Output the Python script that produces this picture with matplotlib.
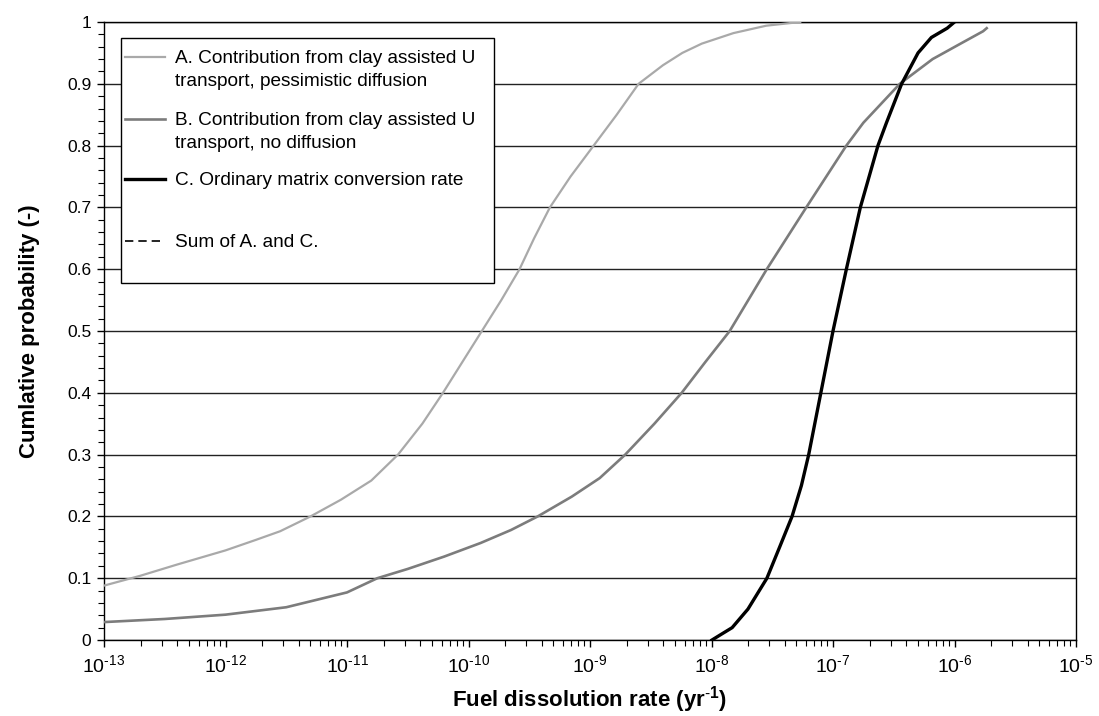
import numpy as np
import matplotlib

matplotlib.use("Agg")
from matplotlib import pyplot as plt
from matplotlib.lines import Line2D
from matplotlib.patches import Rectangle
from matplotlib.ticker import FixedLocator, LogLocator, NullFormatter

plt.rcParams["font.family"] = ["Liberation Sans", "DejaVu Sans"]
plt.rcParams["mathtext.fontset"] = "custom"
plt.rcParams["mathtext.rm"] = "Liberation Sans"
plt.rcParams["mathtext.bf"] = "Liberation Sans:bold"

# values; rates kept as log10(yr-1)
a_log_rate = [-13.0, -12.7, -12.4, -12.0, -11.75, -11.55, -11.3, -11.05, -10.8,
              -10.58, -10.38, -10.21, -10.05, -9.89, -9.73, -9.58, -9.46, -9.33,
              -9.16, -8.97, -8.78, -8.60, -8.40, -8.24, -8.08, -7.82, -7.55, -7.27]
a_prob = [0.088, 0.104, 0.122, 0.145, 0.162, 0.176, 0.200, 0.227, 0.258,
          0.300, 0.350, 0.400, 0.450, 0.500, 0.550, 0.600, 0.650, 0.700,
          0.750, 0.800, 0.850, 0.900, 0.930, 0.950, 0.965, 0.982, 0.994, 1.000]

b_log_rate = [-13.0, -12.5, -12.0, -11.5, -11.0, -10.75, -10.5, -10.2, -9.9,
              -9.65, -9.43, -9.15, -8.92, -8.71, -8.47, -8.245, -8.05, -7.85,
              -7.545, -7.22, -6.89, -6.75, -6.45, -6.18, -5.95, -5.765, -5.735]
b_prob = [0.029, 0.034, 0.041, 0.053, 0.077, 0.100, 0.115, 0.135, 0.157,
          0.178, 0.200, 0.232, 0.262, 0.300, 0.350, 0.400, 0.450, 0.500,
          0.600, 0.700, 0.800, 0.837, 0.900, 0.940, 0.965, 0.985, 0.990]

c_log_rate = [-7.996, -7.93, -7.83, -7.70, -7.544, -7.44, -7.337, -7.26, -7.20,
              -7.10, -7.0, -6.89, -6.775, -6.63, -6.56, -6.435, -6.30, -6.19,
              -6.06, -6.0]
c_prob = [0.0, 0.008, 0.02, 0.05, 0.10, 0.15, 0.20, 0.25, 0.30,
          0.40, 0.50, 0.60, 0.70, 0.80, 0.837, 0.90, 0.95, 0.975,
          0.99, 1.0]

# the sum of A and C lies on top of C everywhere in the picture
sum_log_rate = c_log_rate
sum_prob = c_prob

y_ticks = [0, 0.1, 0.2, 0.3, 0.4, 0.5, 0.6, 0.7, 0.8, 0.9, 1]
y_tick_labels = ["0", "0.1", "0.2", "0.3", "0.4", "0.5", "0.6", "0.7", "0.8", "0.9", "1"]
x_exponents = [-13, -12, -11, -10, -9, -8, -7, -6, -5]

legend_labels = [
    "A. Contribution from clay assisted U\ntransport, pessimistic diffusion",
    "B. Contribution from clay assisted U\ntransport, no diffusion",
    "C. Ordinary matrix conversion rate",
    "Sum of A. and C.",
]

W, H = 1099, 716
AX_L, AX_R, AX_T, AX_B = 104, 1076, 22, 640


def fig_xy(px, py):
    return px / W, 1 - py / H


fig = plt.figure(figsize=(W / 100, H / 100), dpi=100)
ax = fig.add_axes([AX_L / W, 1 - AX_B / H, (AX_R - AX_L) / W, (AX_B - AX_T) / H])

styles = [
    dict(color="#a9a9a9", lw=1.6, ls="-"),
    dict(color="#7c7c7c", lw=1.9, ls="-"),
    dict(color="black", lw=2.4, ls="-"),
    dict(color="black", lw=1.2, ls=(0, (5, 3))),
]
series = [(a_log_rate, a_prob), (b_log_rate, b_prob),
          (c_log_rate, c_prob), (sum_log_rate, sum_prob)]
for (lr, p), st in zip(series, styles):
    ax.plot(10.0 ** np.array(lr), p, zorder=3, **st)

ax.set_xscale("log")
ax.set_xlim(1e-13, 1e-5)
ax.set_ylim(0, 1)

ax.xaxis.set_minor_locator(LogLocator(base=10, subs=np.arange(2, 10), numticks=100))
ax.xaxis.set_minor_formatter(NullFormatter())
ax.set_xticks([10.0 ** e for e in x_exponents])
ax.set_xticklabels([r"$\mathregular{10^{\text{-}%d}}$" % -e for e in x_exponents])

ax.set_yticks(y_ticks)
ax.set_yticklabels(y_tick_labels)
ax.yaxis.set_minor_locator(FixedLocator(np.arange(0, 1.001, 0.02)))

ax.tick_params(axis="both", which="major", direction="out", length=5, width=1,
               color="black")
ax.tick_params(axis="both", which="minor", direction="out", length=4, width=0.8)
ax.tick_params(axis="x", pad=5, labelsize=14)
ax.tick_params(axis="y", pad=4, labelsize=12.5)

ax.yaxis.grid(True, which="major", color="#222222", lw=1.0)
ax.set_axisbelow(True)
for sp in ax.spines.values():
    sp.set_linewidth(1.0)
    sp.set_color("black")

fig.text(*fig_xy(590, 700), r"Fuel dissolution rate (yr$^{\mathbf{\text{-}1}}$)",
         ha="center", va="center", fontsize=16, fontweight="bold")
fig.text(*fig_xy(30, 331), "Cumlative probability (-)", ha="center", va="center",
         rotation=90, fontsize=16, fontweight="bold")

# hand-built legend so each marker sits on the first line of its label
box_l, box_t, box_r, box_b = 121, 38, 494, 283
x0, y0 = fig_xy(box_l, box_b)
x1, y1 = fig_xy(box_r, box_t)
fig.add_artist(Rectangle((x0, y0), x1 - x0, y1 - y0, transform=fig.transFigure,
                         facecolor="white", edgecolor="black", lw=1.0, zorder=10))
baselines = [63, 125, 185, 247]
line_gap = 23
for label, st, base in zip(legend_labels, styles, baselines):
    hx0, hy = fig_xy(125, base - 6.5)
    hx1, _ = fig_xy(165, base - 6.5)
    fig.add_artist(Line2D([hx0, hx1], [hy, hy], transform=fig.transFigure,
                          zorder=11, **st))
    for i, part in enumerate(label.split("\n")):
        tx, ty = fig_xy(175, base + i * line_gap)
        fig.text(tx, ty, part, ha="left", va="baseline", fontsize=13.7, zorder=11)

fig.savefig("out.png", dpi=100)
